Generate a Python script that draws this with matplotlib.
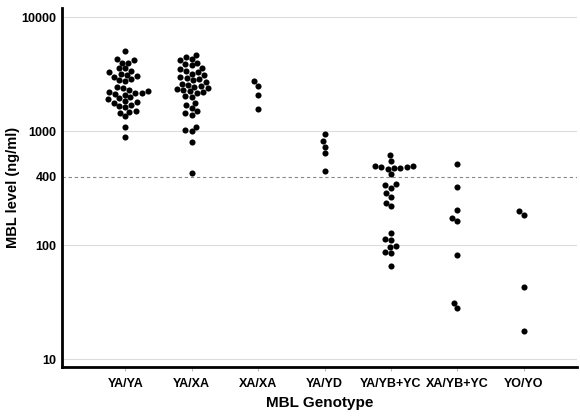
import numpy as np
import pandas as pd
import matplotlib
matplotlib.use('Agg')
import matplotlib.pyplot as plt
import seaborn as sns

plt.rcParams['font.family'] = ['Liberation Sans', 'DejaVu Sans']

genotypes = ['YA/YA', 'YA/XA', 'XA/XA', 'YA/YD', 'YA/YB+YC', 'XA/YB+YC', 'YO/YO']

ya_ya = [5100, 4300, 4200, 4000, 3950, 3600, 3550, 3400, 3300, 3200, 3100, 3050,
         3000, 2850, 2800, 2750, 2450, 2400, 2300, 2250, 2200, 2180, 2150, 2130,
         2100, 2000, 1950, 1900, 1850, 1800, 1780, 1700, 1650, 1620, 1500, 1480,
         1450, 1350, 1100, 890]
ya_xa = [4700, 4500, 4300, 4200, 4000, 3900, 3800, 3600, 3500, 3400, 3300, 3200,
         3100, 3000, 2950, 2850, 2800, 2700, 2600, 2550, 2500, 2450, 2400, 2350,
         2300, 2250, 2200, 2150, 2050, 2000, 1780, 1700, 1600, 1500, 1450, 1400,
         1100, 1020, 1000, 800, 430]
xa_xa = [2770, 2510, 2100, 1580]
ya_yd = [953, 828, 734, 643, 446]
ya_ybyc = [617, 546, 500, 495, 490, 485, 480, 475, 470, 423,
           345, 335, 320, 288, 264, 236, 220,
           129, 114, 112, 99, 97, 88, 86, 66]
xa_ybyc = [515, 326, 206, 172, 164, 83, 31.5, 28.5]
yo_yo = [200, 184, 43, 17.7]

groups = [ya_ya, ya_xa, xa_xa, ya_yd, ya_ybyc, xa_ybyc, yo_yo]
cutoff = 400
grid_vals = [10, 100, 1000, 10000]
ytick_vals = [10, 100, 400, 1000, 10000]

df = pd.DataFrame({
    'genotype': [g for g, vals in zip(genotypes, groups) for _ in vals],
    'mbl': [v for vals in groups for v in vals],
})

fig = plt.figure(figsize=(5.8, 4.16), dpi=100)
ax = fig.add_axes([0.107, 0.118, 0.888, 0.863])

for v in grid_vals:
    ax.axhline(v, color='#dcdcdc', lw=0.8, zorder=0)
ax.axhline(cutoff, color='#888888', lw=0.8, ls=(0, (3, 2.5)), zorder=0)

sns.swarmplot(data=df, x='genotype', y='mbl', order=genotypes, color='black',
              size=4.4, linewidth=0, log_scale=True, ax=ax, zorder=3)

ax.set_ylim(8.6, 12060)
ax.set_xlim(-0.95, 6.8)
ax.set_yticks(ytick_vals)
ax.set_yticklabels([str(v) for v in ytick_vals])
ax.yaxis.set_minor_locator(matplotlib.ticker.NullLocator())
ax.tick_params(axis='y', length=0, labelsize=9, pad=4)
ax.tick_params(axis='x', length=3, color='#bbbbbb', labelsize=9, pad=5)
for lab in ax.get_xticklabels() + ax.get_yticklabels():
    lab.set_fontweight('bold')

for s in ['top', 'right']:
    ax.spines[s].set_visible(False)
for s in ['left', 'bottom']:
    ax.spines[s].set_linewidth(2)
    ax.spines[s].set_color('black')

ax.set_xlabel('MBL Genotype', fontsize=11, fontweight='bold', labelpad=4)
ax.set_ylabel('MBL level (ng/ml)', fontsize=10.5, fontweight='bold', labelpad=1)

fig.savefig('out.png', dpi=100)
